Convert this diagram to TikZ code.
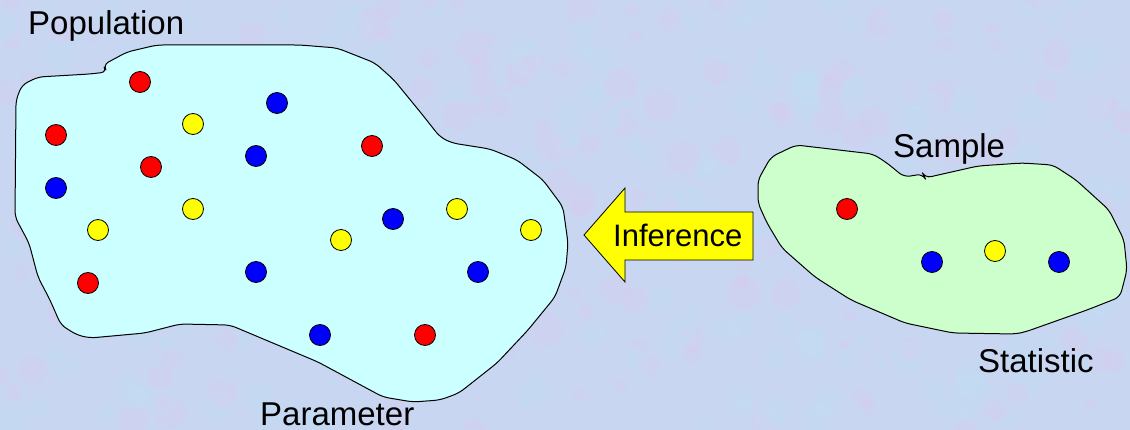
\documentclass[tikz,border=0pt]{standalone}
\usepackage{fontspec}
\setmainfont{Liberation Sans}
\definecolor{bgc}{HTML}{C8D6F2}
\definecolor{bgpink}{HTML}{E2C8EC}
\definecolor{bgcyan}{HTML}{BCE2F6}
\definecolor{popfill}{HTML}{CCFFFF}
\definecolor{samfill}{HTML}{CCFFCC}
\definecolor{dred}{HTML}{FF0000}
\definecolor{dblue}{HTML}{0000FF}
\definecolor{dyellow}{HTML}{FFFF00}
\begin{document}
\begin{tikzpicture}[x=1pt,y=-1pt,
  blob/.style={draw=black,line width=1pt,rounded corners=6pt},
  dot/.style={circle,draw=black,line width=0.8pt,minimum size=21pt,inner sep=0pt},
  rdot/.style={dot,fill=dred},
  bdot/.style={dot,fill=dblue},
  ydot/.style={dot,fill=dyellow},
  lbl/.style={inner sep=0pt,anchor=base west,font=\fontsize{33}{40}\selectfont},
  arrowshape/.style={draw=black,line width=0.8pt,fill=dyellow}]
\fill[bgc] (0,0) rectangle (1130,430);
\useasboundingbox (0,0) rectangle (1130,430);
% soft texture
\pgfmathsetseed{11}
\foreach \i in {1,...,450}{
  \pgfmathsetmacro{\xx}{rnd*1130}
  \pgfmathsetmacro{\yy}{rnd*430}
  \pgfmathsetmacro{\rr}{5+rnd*12}
  \pgfmathsetmacro{\cc}{rnd}
  \ifdim\cc pt<0.45pt
    \fill[bgpink,opacity=0.22] (\xx,\yy) circle[radius=\rr];
  \else
    \fill[bgcyan,opacity=0.22] (\xx,\yy) circle[radius=\rr];
  \fi
}
% population
\draw[blob,fill=popfill] (103,65) -- (107,72) -- (90,74) -- (38,77) -- (22,85) -- (16,100)
  -- (15,217) -- (29,243) -- (38,277) -- (50,300) -- (61,325) -- (77,335) -- (90,338)
  -- (145,333) -- (180,324) -- (230,325) -- (318,362) -- (383,397) -- (413,402)
  -- (440,400) -- (459,393) -- (497,363) -- (528,330) -- (555,297) -- (566,267)
  -- (568,243) -- (563,207) -- (543,180) -- (517,160) -- (490,149) -- (452,143)
  -- (440,137) -- (421,113) -- (394,80) -- (375,63) -- (337,48) -- (300,45)
  -- (157,45) -- (127,52) -- cycle;
% sample
\draw[blob,fill=samfill] (796,145) -- (873,154) -- (887,163) -- (904,177) -- (923,174)
  -- (925,178) -- (978,166) -- (1022,163) -- (1053,165) -- (1076,180) -- (1109,210)
  -- (1124,240) -- (1127,270) -- (1120,297) -- (1087,310) -- (1025,332) -- (1015,334)
  -- (953,333) -- (905,323) -- (851,300) -- (815,277) -- (782,248) -- (767,223)
  -- (758,203) -- (758,180) -- (771,157) -- cycle;
% population dots
\node[rdot] (r1) at (140,82) {};
\node[rdot] (r2) at (56,135) {};
\node[rdot] (r3) at (151,167) {};
\node[rdot] (r4) at (372,146) {};
\node[rdot] (r5) at (88,283) {};
\node[rdot] (r6) at (425,335) {};
\node[bdot] (b1) at (277,103) {};
\node[bdot] (b2) at (256,156) {};
\node[bdot] (b3) at (56,188) {};
\node[bdot] (b4) at (393,219) {};
\node[bdot] (b5) at (256,272) {};
\node[bdot] (b6) at (478,272) {};
\node[bdot] (b7) at (320,335) {};
\node[ydot] (y1) at (193,124) {};
\node[ydot] (y2) at (193,209) {};
\node[ydot] (y3) at (98,230) {};
\node[ydot] (y4) at (341,240) {};
\node[ydot] (y5) at (457,209) {};
\node[ydot] (y6) at (531,230) {};
% sample dots
\node[rdot] (sr1) at (847,209) {};
\node[bdot] (sb1) at (932,262) {};
\node[ydot] (sy1) at (995,251) {};
\node[bdot] (sb2) at (1059,262) {};
% inference arrow
\draw[arrowshape] (584,235) -- (625,188) -- (625,212) -- (753,212) -- (753,260)
  -- (625,260) -- (625,282) -- cycle;
\node[inner sep=0pt,anchor=base west,font=\fontsize{31}{37}\selectfont] (inf) at (613,247) {Inference};
% labels
\node[lbl] (pop) at (28,35) {Population};
\node[lbl] (par) at (260,425) {Parameter};
\node[lbl] (sam) at (893,158) {Sample};
\node[lbl] (sta) at (978,373) {Statistic};
\end{tikzpicture}
\end{document}
